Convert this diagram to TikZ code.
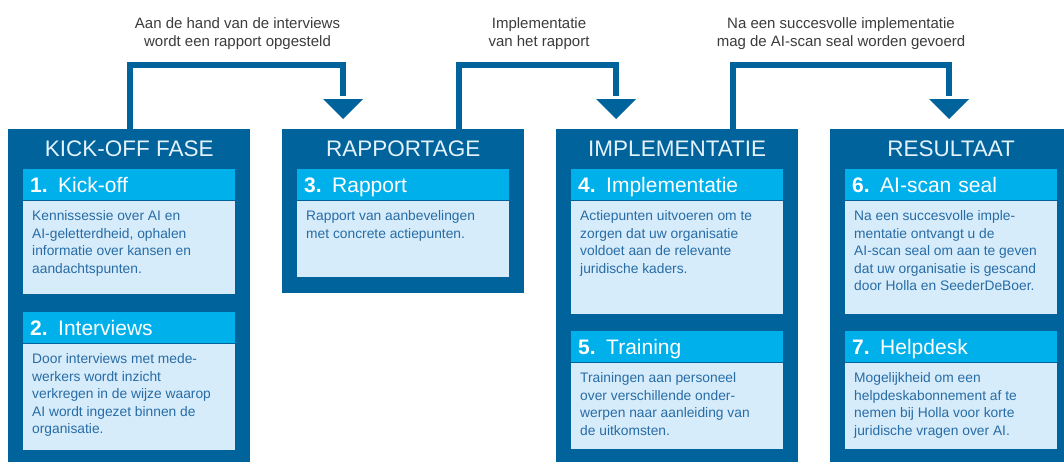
\documentclass[tikz,border=0pt]{standalone}
\usepackage{fontspec}
\setmainfont{Liberation Sans}
\definecolor{dark}{RGB}{0,99,155}
\definecolor{cyanhd}{RGB}{0,176,235}
\definecolor{lightbd}{RGB}{214,236,250}
\definecolor{bodyfg}{RGB}{40,108,165}
\definecolor{titlefg}{RGB}{228,242,252}
\definecolor{labelfg}{RGB}{60,60,60}
\tikzset{
 outer/.style={fill=dark, draw=none, rectangle, inner sep=0pt, minimum width=242pt, anchor=north west},
 phase/.style={text=titlefg, font=\fontsize{22.5}{26}\selectfont, inner sep=0pt, text height=16pt, text depth=0pt},
 hdr/.style={fill=cyanhd, rectangle, minimum height=31pt, text width=198pt, inner xsep=7pt, inner ysep=0pt, text height=15pt, text depth=0pt, text=white, align=left, font=\fontsize{21}{24}\selectfont, anchor=north west},
 bodybox/.style={fill=lightbd, rectangle, minimum width=212pt, inner sep=0pt, anchor=north},
 bodytxt/.style={text=bodyfg, align=left, inner sep=0pt, anchor=north west, font=\fontsize{13.8}{17.5}\selectfont},
 lbl/.style={text=labelfg, align=center, inner sep=0pt, anchor=north, font=\fontsize{15}{18.5}\selectfont},
 conn/.style={draw=dark, line width=6pt},
 tipfill/.style={fill=dark},
}
\newcommand\mycard[7]{%
 \node[hdr] (#1h) at (#2,#3) {\textbf{#5} #6};
 \node[bodybox, minimum height=#4pt] (#1b) at (#1h.south) {};
 \node[bodytxt] (#1t) at ([xshift=9pt,yshift=-10pt]#1b.north west) {#7};
}
\begin{document}
\begin{tikzpicture}[x=1pt,y=-1pt]
\useasboundingbox (0,0) rectangle (1064,461);
\fill[white] (0,0) rectangle (1064,461);

% phase boxes
\node[outer, minimum height=340pt] (k1) at (8,129) {};
\node[outer, minimum height=164pt] (k2) at (282,129) {};
\node[outer, minimum height=340pt] (k3) at (556,129) {};
\node[outer, minimum height=340pt] (k4) at (830,129) {};

\node[phase] (k1t) at ([yshift=-19.3pt]k1.north) {KICK-OFF FASE};
\node[phase] (k2t) at ([yshift=-19.3pt]k2.north) {RAPPORTAGE};
\node[phase] (k3t) at ([yshift=-19.3pt]k3.north) {IMPLEMENTATIE};
\node[phase] (k4t) at ([yshift=-19.3pt]k4.north) {RESULTAAT};

% cards
\mycard{c1}{23}{169}{93}{1.}{Kick-off}{Kennissessie over AI en\\AI-geletterdheid, ophalen\\informatie over kansen en\\aandachtspunten.}
\mycard{c2}{23}{312}{106}{2.}{Interviews}{Door interviews met mede-\\werkers wordt inzicht\\verkregen in de wijze waarop\\AI wordt ingezet binnen de\\organisatie.}
\mycard{c3}{297}{169}{76}{3.}{Rapport}{Rapport van aanbevelingen\\met concrete actiepunten.}
\mycard{c4}{571}{169}{113}{4.}{Implementatie}{Actiepunten uitvoeren om te\\zorgen dat uw organisatie\\voldoet aan de relevante\\juridische kaders.}
\mycard{c5}{571}{331}{86}{5.}{Training}{Trainingen aan personeel\\over verschillende onder-\\werpen naar aanleiding van\\de uitkomsten.}
\mycard{c6}{845}{169}{113}{6.}{AI-scan seal}{Na een succesvolle imple-\\mentatie ontvangt u de\\AI-scan seal om aan te geven\\dat uw organisatie is gescand\\door Holla en SeederDeBoer.}
\mycard{c7}{845}{331}{86}{7.}{Helpdesk}{Mogelijkheid om een\\helpdeskabonnement af te\\nemen bij Holla voor korte\\juridische vragen over AI.}

% connectors
\coordinate (m1) at (343,65); \coordinate (e1) at (343,96); \coordinate (t1) at (343,119);
\coordinate (m2) at (616,65); \coordinate (e2) at (616,96); \coordinate (t2) at (616,119);
\coordinate (m3) at (949,65); \coordinate (e3) at (949,96); \coordinate (t3) at (949,119);
\draw[conn] ([xshift=121.5pt]k1.north west) |- (m1) -- (e1);
\draw[conn] ([xshift=177pt]k2.north west) |- (m2) -- (e2);
\draw[conn] ([xshift=177pt]k3.north west) |- (m3) -- (e3);
\fill[tipfill] (t1) -- ++(-20,-20) -- ++(40,0) -- cycle;
\fill[tipfill] (t2) -- ++(-20,-20) -- ++(40,0) -- cycle;
\fill[tipfill] (t3) -- ++(-20,-20) -- ++(40,0) -- cycle;

% labels
\node[lbl] (l1) at (237.5,17) {Aan de hand van de interviews\\wordt een rapport opgesteld};
\node[lbl] (l2) at (539,17) {Implementatie\\van het rapport};
\node[lbl] (l3) at (841,17) {Na een succesvolle implementatie\\mag de AI-scan seal worden gevoerd};
\end{tikzpicture}
\end{document}
